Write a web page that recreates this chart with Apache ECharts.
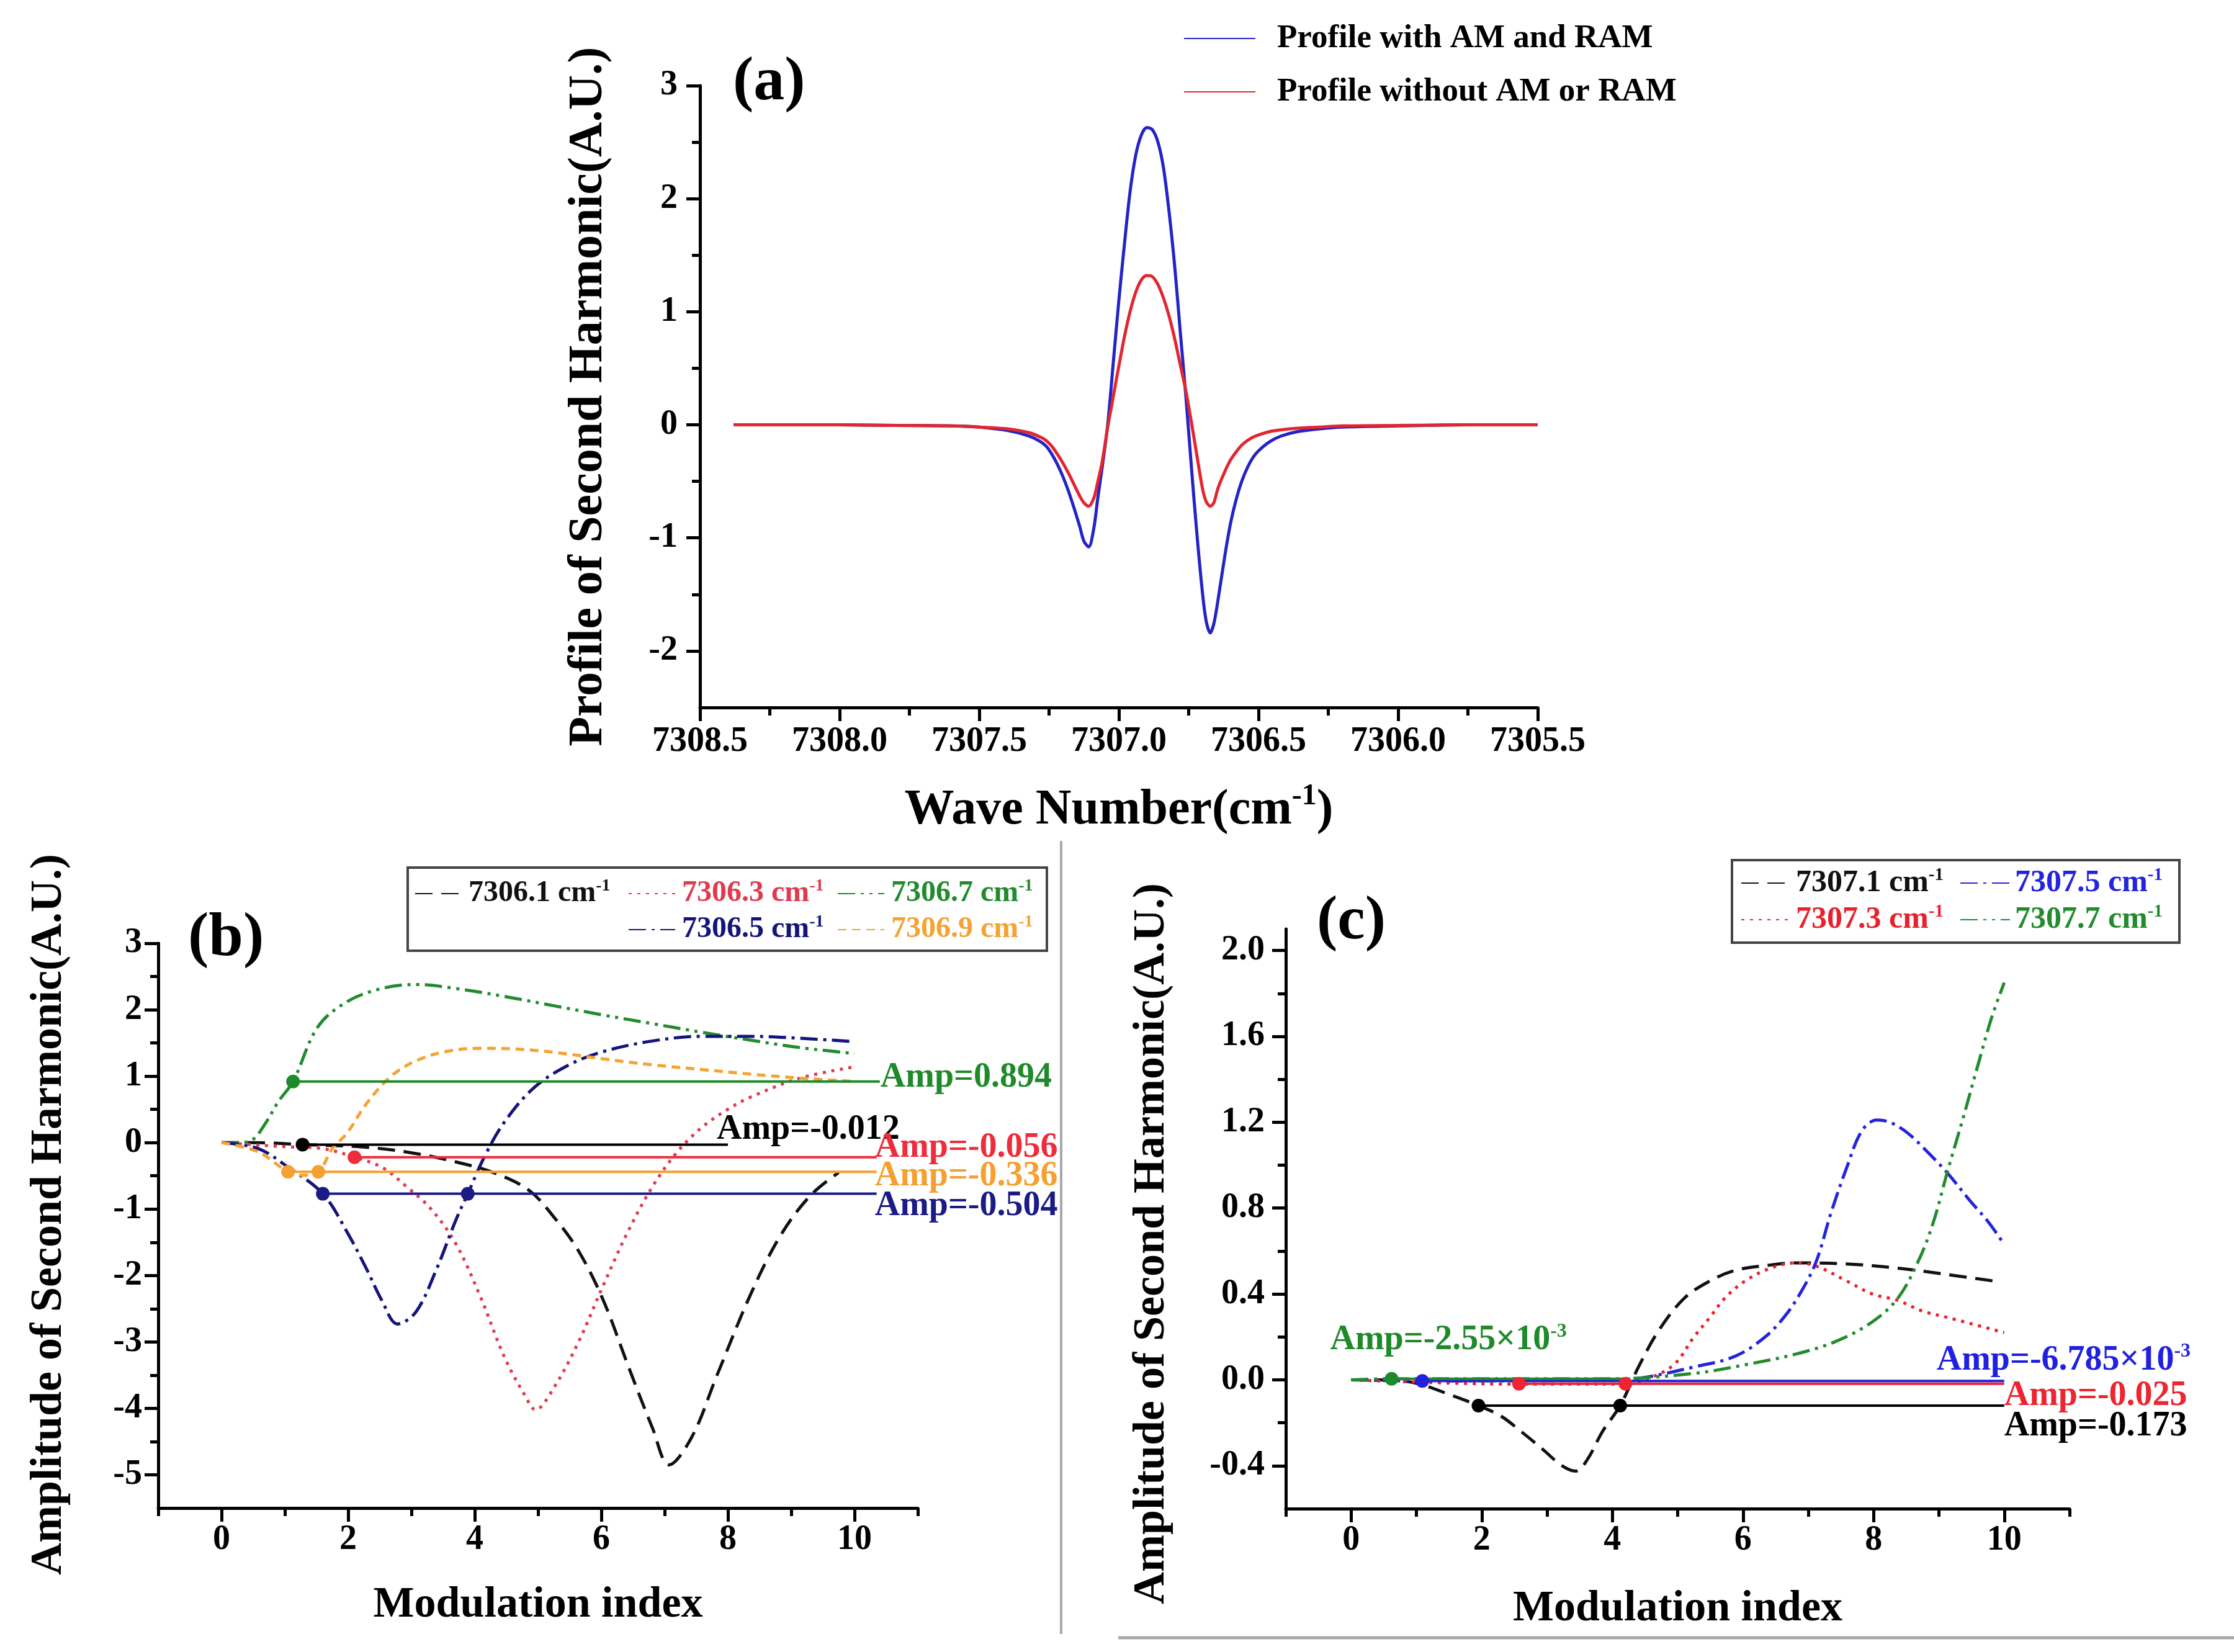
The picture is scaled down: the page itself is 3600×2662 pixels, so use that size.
<!DOCTYPE html>
<html>
<head>
<meta charset="utf-8">
<title>Second harmonic profiles</title>
<script src="https://cdn.jsdelivr.net/npm/echarts@6/dist/echarts.min.js"></script>
<style>
  html, body { margin: 0; padding: 0; background: #fff; }
  #chart { width: 3600px; height: 2662px; }
</style>
</head>
<body>
<div id="chart"></div>
<script>
// ---------- panel (a): 2f profile vs wave number ----------
const waveNumbers = [7308.38, 7308.2, 7308.0, 7307.8, 7307.6, 7307.5, 7307.4, 7307.32, 7307.28,
  7307.26, 7307.24, 7307.22, 7307.20, 7307.18, 7307.16, 7307.14, 7307.125, 7307.108, 7307.09,
  7307.075, 7307.06, 7307.04, 7307.02, 7307.00, 7306.98, 7306.96, 7306.94, 7306.92, 7306.90,
  7306.88, 7306.86, 7306.84, 7306.82, 7306.80, 7306.78, 7306.76, 7306.74, 7306.72, 7306.70,
  7306.687, 7306.673, 7306.66, 7306.645, 7306.62, 7306.60, 7306.58, 7306.56, 7306.54, 7306.52,
  7306.50, 7306.46, 7306.42, 7306.36, 7306.28, 7306.2, 7306.0, 7305.75, 7305.5];
const profileWithAmRam = [0, 0, 0, -0.005, -0.01, -0.02, -0.05, -0.1, -0.15,
  -0.19, -0.26, -0.35, -0.46, -0.59, -0.74, -0.9, -1.03, -1.08, -0.92,
  -0.64, -0.38, 0.0, 0.55, 1.1, 1.6, 2.06, 2.38, 2.56, 2.63,
  2.61, 2.5, 2.27, 1.88, 1.4, 0.82, 0.25, -0.38, -0.98, -1.5,
  -1.74, -1.84, -1.76, -1.55, -1.15, -0.87, -0.66, -0.5, -0.38, -0.29,
  -0.23, -0.15, -0.1, -0.06, -0.035, -0.02, -0.01, 0, 0];
const profileWithoutAmRam = [0, 0, 0, -0.005, -0.01, -0.02, -0.035, -0.07, -0.11,
  -0.14, -0.19, -0.26, -0.34, -0.43, -0.53, -0.63, -0.69, -0.72, -0.65,
  -0.5, -0.33, -0.02, 0.25, 0.52, 0.78, 1.0, 1.17, 1.28, 1.32,
  1.31, 1.24, 1.12, 0.96, 0.76, 0.53, 0.3, 0.02, -0.28, -0.57,
  -0.68, -0.72, -0.69, -0.56, -0.41, -0.31, -0.24, -0.18, -0.14, -0.11,
  -0.09, -0.06, -0.045, -0.03, -0.02, -0.01, -0.005, 0, 0];
const waveMajorTicks = [7305.5, 7306.0, 7306.5, 7307.0, 7307.5, 7308.0, 7308.5];
const waveMinorTicks = [7305.75, 7306.25, 7306.75, 7307.25, 7307.75, 7308.25];
const profileMajorTicks = [-2, -1, 0, 1, 2, 3];
const profileMinorTicks = [-1.5, -0.5, 0.5, 1.5, 2.5];

// ---------- panel (b): amplitude vs modulation index ----------
const namesB = ['7306.1', '7306.3', '7306.7', '7306.5', '7306.9'];
const curveB_7306_1 = [[0, 0], [0.5, 0], [1.28, -0.03], [2.14, -0.06], [2.92, -0.14], [3.7, -0.29], [4.32, -0.46],
  [4.86, -0.72], [5.25, -1.12], [5.64, -1.63], [6.03, -2.37], [6.42, -3.35], [6.81, -4.3], [7.07, -4.85],
  [7.43, -4.43], [7.82, -3.52], [8.37, -2.26], [8.83, -1.4], [9.3, -0.8], [9.75, -0.45]];
const curveB_7306_3 = [[0, 0], [0.97, -0.06], [1.6, -0.09], [2.1, -0.22], [2.53, -0.37], [2.92, -0.66], [3.31, -1.0],
  [3.7, -1.52], [4.09, -2.32], [4.47, -3.23], [4.79, -3.8], [4.96, -4.02], [5.25, -3.69], [5.64, -3.0],
  [6.03, -2.15], [6.42, -1.34], [6.81, -0.66], [7.2, -0.14], [7.59, 0.23], [7.98, 0.49], [8.37, 0.69],
  [9.14, 0.97], [10, 1.14]];
const curveB_7306_7 = [[0, 0], [0.3, 0], [0.5, 0.05], [0.7, 0.3], [0.9, 0.62], [1.13, 0.92], [1.52, 1.74],
  [1.98, 2.12], [2.53, 2.32], [3.07, 2.38], [3.7, 2.32], [4.47, 2.2], [5.25, 2.06], [6.03, 1.92],
  [6.81, 1.79], [7.59, 1.66], [8.37, 1.54], [9.14, 1.43], [10, 1.34]];
const curveB_7306_5 = [[0, 0], [0.58, -0.09], [1.05, -0.37], [1.6, -0.77], [1.98, -1.34], [2.3, -1.92], [2.53, -2.37],
  [2.78, -2.73], [3.07, -2.55], [3.39, -1.92], [3.7, -1.17], [3.89, -0.77], [4.16, -0.2], [4.47, 0.31],
  [4.94, 0.83], [5.49, 1.17], [6.03, 1.37], [6.81, 1.53], [7.59, 1.6], [8.37, 1.6], [9.14, 1.57], [10, 1.52]];
const curveB_7306_9 = [[0, 0], [0.58, -0.14], [1.05, -0.44], [1.28, -0.49], [1.53, -0.44], [1.75, -0.09], [1.98, 0.14],
  [2.3, 0.6], [2.68, 1.0], [3.07, 1.23], [3.54, 1.37], [4.09, 1.42], [4.63, 1.41], [5.25, 1.36],
  [6.03, 1.26], [6.81, 1.17], [7.59, 1.1], [8.37, 1.03], [9.14, 0.97], [10, 0.92]];
// amplitude marker lines: green, black, red, orange, navy
const ampLevelsB = [0.92, -0.03, -0.22, -0.44, -0.77];
const ampMarkersB = [[1.13], [1.28], [2.1], [1.05, 1.53], [1.6, 3.89]];
const ampEndsB = [10.4, 8.0, 10.35, 10.35, 10.35];
const ampTextsB = ['Amp=0.894', 'Amp=-0.012', 'Amp=-0.056', 'Amp=-0.336', 'Amp=-0.504'];

// ---------- panel (c) ----------
const namesC = ['7307.1', '7307.5', '7307.3', '7307.7'];
const curveC_7307_1 = [[0, 0], [0.58, 0], [1.05, -0.02], [1.52, -0.07], [1.95, -0.12], [2.3, -0.17], [2.6, -0.24],
  [2.92, -0.32], [3.23, -0.4], [3.44, -0.425], [3.62, -0.37], [3.85, -0.24], [4.12, -0.12], [4.4, 0.06],
  [4.71, 0.23], [5.1, 0.38], [5.49, 0.46], [5.88, 0.51], [6.42, 0.535], [6.81, 0.545], [7.59, 0.54],
  [8.37, 0.52], [9.14, 0.49], [9.85, 0.46]];
const curveC_7307_5 = [[0, 0], [1.09, -0.005], [4.0, 0], [4.47, 0.01], [5.25, 0.06], [5.88, 0.11], [6.34, 0.2],
  [6.65, 0.3], [6.89, 0.41], [7.12, 0.55], [7.35, 0.78], [7.59, 0.99], [7.82, 1.16], [8.05, 1.21], [8.25, 1.2],
  [8.52, 1.15], [8.83, 1.06], [9.14, 0.96], [9.46, 0.84], [9.77, 0.73], [10, 0.63]];
const curveC_7307_3 = [[0, 0], [2.57, -0.02], [4.2, -0.02], [4.5, 0], [4.94, 0.07], [5.25, 0.2], [5.49, 0.29],
  [5.72, 0.38], [6.03, 0.46], [6.42, 0.52], [6.81, 0.545], [7.12, 0.53], [7.59, 0.46], [7.98, 0.4],
  [8.37, 0.37], [8.75, 0.32], [9.14, 0.29], [10, 0.22]];
const curveC_7307_7 = [[0, 0], [0.62, 0.005], [4.0, 0.005], [5.25, 0.03], [6.03, 0.07], [6.81, 0.12], [7.43, 0.18],
  [7.98, 0.27], [8.37, 0.38], [8.68, 0.55], [8.91, 0.73], [9.14, 0.98], [9.38, 1.23], [9.61, 1.48],
  [9.81, 1.69], [10, 1.85]];
// amplitude marker lines: green, blue, red, black
const ampLevelsC = [0.005, -0.005, -0.018, -0.12];
const ampMarkersC = [[0.62], [1.09], [2.57, 4.2], [1.95, 4.12]];
const ampEndsC = [4.2, 10, 10, 10];
const ampTextsC = ['Amp=-2.55×10|-3', 'Amp=-6.785×10|-3', 'Amp=-0.025', 'Amp=-0.173'];

const modMajorTicks = [0, 2, 4, 6, 8, 10];
const modMinorTicks = [-1, 1, 3, 5, 7, 9, 11];
const ampBMajorTicks = [-5, -4, -3, -2, -1, 0, 1, 2, 3];
const ampBMinorTicks = [-4.5, -3.5, -2.5, -1.5, -0.5, 0.5, 1.5, 2.5];
const ampCMajorTicks = [-0.4, 0, 0.4, 0.8, 1.2, 1.6, 2.0];
const ampCMinorTicks = [-0.2, 0.2, 0.6, 1.0, 1.4, 1.8];

// ---------- styling helpers ----------
const FONT = '"Liberation Serif", "Times New Roman", serif';
const AXIS_W = 5;

function mainAxis(gridIndex, min, max, majors, fmt, margin, extra) {
  return Object.assign({
    type: 'value', gridIndex: gridIndex, min: min, max: max,
    axisLine: { show: true, onZero: false, lineStyle: { color: '#000', width: AXIS_W } },
    axisTick: { show: true, inside: false, length: 22, customValues: majors, lineStyle: { color: '#000', width: AXIS_W } },
    axisLabel: { show: true, customValues: majors, formatter: fmt, margin: margin,
      fontFamily: FONT, fontWeight: 'bold', fontSize: 56, color: '#000' },
    splitLine: { show: false }
  }, extra);
}

// second axis on the same grid, only used to draw the short minor ticks
function ghostAxis(gridIndex, min, max, minors, position, inverse) {
  return {
    type: 'value', gridIndex: gridIndex, min: min, max: max, position: position, inverse: !!inverse,
    axisLine: { show: false, onZero: false },
    axisTick: { show: true, inside: false, length: 13, customValues: minors, lineStyle: { color: '#000', width: AXIS_W } },
    axisLabel: { show: false },
    splitLine: { show: false }
  };
}

function nameStyle(size, padding) {
  const s = { fontFamily: FONT, fontWeight: 'bold', fontSize: size, color: '#000' };
  if (padding) s.padding = padding;
  return s;
}

function curve(name, data, xi, color, dash, width, smooth) {
  return {
    type: 'line', name: name, xAxisIndex: xi, yAxisIndex: xi, data: data,
    smooth: smooth, symbol: 'none', showSymbol: false, color: color,
    lineStyle: { color: color, width: width, type: dash },
    z: 2
  };
}

function supRich(size, color) {
  return {
    t: { fontFamily: FONT, fontWeight: 'bold', fontSize: size, lineHeight: size + 8, color: color },
    s: { fontFamily: FONT, fontWeight: 'bold', fontSize: Math.round(size * 0.58), lineHeight: Math.round(size * 0.58),
      padding: [0, 0, Math.round(size * 0.5), 0], color: color }
  };
}

function ampText(txt) {
  const parts = txt.split('|');
  return parts.length > 1 ? '{t|' + parts[0] + '}{s|' + parts[1] + '}' : '{t|' + parts[0] + '}';
}

function ampSeries(xi, level, markers, end, text, color, labelOffset, labelOnStart) {
  const data = markers.map(function (x) { return [x, level]; });
  data.push({ value: [end, level], symbol: 'none' });
  const labelCfg = {
    show: true, formatter: function () { return ampText(text); }, rich: supRich(56, color),
    offset: labelOffset, distance: 0
  };
  const s = {
    type: 'line', xAxisIndex: xi, yAxisIndex: xi, data: data,
    symbol: 'circle', symbolSize: 22, showSymbol: true, showAllSymbol: true, color: color,
    lineStyle: { color: color, width: 4, type: 'solid' },
    itemStyle: { color: color }, z: 3
  };
  if (labelOnStart) {
    data[0] = { value: data[0], label: Object.assign({ position: 'right' }, labelCfg) };
  } else {
    s.endLabel = labelCfg;
  }
  return s;
}

function legendItem(name, color, left, centerY, size, iconW, pad, withSup) {
  const h = size + 8;
  return {
    data: [name], left: left, top: centerY - h / 2, padding: 0, orient: 'horizontal',
    itemWidth: iconW, itemHeight: 20, selectedMode: false,
    itemStyle: { opacity: 0 },
    formatter: withSup ? function (n) { return '{t|' + n + ' cm}{s|-1}'; } : '{name}',
    textStyle: { color: color, fontFamily: FONT, fontWeight: 'bold', fontSize: size, lineHeight: h,
      padding: [0, 0, 0, pad], rich: supRich(size, color) }
  };
}

// colours
const BLUE_A = '#2323c8', RED_A = '#e22630';
const BLACK = '#111111', RED_B = '#e03a4e', GREEN = '#218b2d', NAVY = '#14147a', ORANGE = '#f4a334';
const RED_C = '#e8222c', BLUE_C = '#2424dc';

// dash patterns
const DASH = [28, 14], DOT = [5, 9], DASH_DOT = [28, 9, 5, 9], DASH_DOT_DOT = [28, 9, 5, 9, 5, 9], SHORT_DASH = [14, 9];

const chart = echarts.init(document.getElementById('chart'));

const option = {
  backgroundColor: '#fff',
  animation: false,
  title: [
    { text: '(a)', left: 1181, top: 84, padding: 0, textStyle: nameStyle(100) },
    { text: '(b)', left: 303, top: 1463, padding: 0, textStyle: nameStyle(100) },
    { text: '(c)', left: 2122, top: 1436, padding: 0, textStyle: nameStyle(100) }
  ],
  grid: [
    { left: 1128, top: 138, width: 1350, height: 1002 },
    { left: 255, top: 1520, width: 1224, height: 910 },
    { left: 2072, top: 1497, width: 1263, height: 934 }
  ],
  xAxis: [
    mainAxis(0, 7305.5, 7308.5, waveMajorTicks, function (v) { return v.toFixed(1); }, 28, {
      inverse: true, position: 'bottom',
      name: '{t|Wave Number(cm}{s|-1}{t|)}', nameLocation: 'middle', nameGap: 120,
      nameTextStyle: { rich: {
        t: { fontFamily: FONT, fontWeight: 'bold', fontSize: 80, lineHeight: 92, color: '#000' },
        s: { fontFamily: FONT, fontWeight: 'bold', fontSize: 48, lineHeight: 48, padding: [0, 0, 44, 0], color: '#000' }
      } }
    }),
    mainAxis(1, -1, 11, modMajorTicks, function (v) { return String(v); }, 24, {
      position: 'bottom', name: 'Modulation index', nameLocation: 'middle', nameGap: 122, nameTextStyle: nameStyle(70)
    }),
    mainAxis(2, -1, 11, modMajorTicks, function (v) { return String(v); }, 24, {
      position: 'bottom', name: 'Modulation index', nameLocation: 'middle', nameGap: 127, nameTextStyle: nameStyle(70)
    }),
    ghostAxis(0, 7305.5, 7308.5, waveMinorTicks, 'bottom', true),
    ghostAxis(1, -1, 11, modMinorTicks, 'bottom'),
    ghostAxis(2, -1, 11, modMinorTicks, 'bottom')
  ],
  yAxis: [
    mainAxis(0, -2.5, 3, profileMajorTicks, function (v) { return String(v); }, 36, {
      position: 'left', name: 'Profile of Second Harmonic(A.U.)', nameLocation: 'middle', nameGap: 140,
      nameTextStyle: nameStyle(78)
    }),
    mainAxis(1, -5.5, 3, ampBMajorTicks, function (v) { return String(v); }, 26, {
      position: 'left', name: 'Amplitude of Second Harmonic(A.U.)', nameLocation: 'middle', nameGap: 140,
      nameTextStyle: nameStyle(72, [0, 0, 0, 36])
    }),
    mainAxis(2, -0.6, 2.1, ampCMajorTicks, function (v) { return v.toFixed(1); }, 34, {
      position: 'left', name: 'Amplitude of Second Harmonic(A.U.)', nameLocation: 'middle', nameGap: 180,
      nameTextStyle: nameStyle(72, [0, 80, 0, 0])
    }),
    ghostAxis(0, -2.5, 3, profileMinorTicks, 'left'),
    ghostAxis(1, -5.5, 3, ampBMinorTicks, 'left'),
    ghostAxis(2, -0.6, 2.1, ampCMinorTicks, 'left')
  ],
  legend: [
    legendItem('Profile with AM and RAM', '#000', 1907, 62, 53, 115, 30, false),
    legendItem('Profile without AM or RAM', '#000', 1907, 148, 53, 115, 30, false),
    legendItem(namesB[0], BLACK, 668, 1440, 48, 75, 6, true),
    legendItem(namesB[1], RED_B, 1012, 1440, 48, 75, 6, true),
    legendItem(namesB[2], GREEN, 1349, 1440, 48, 75, 6, true),
    legendItem(namesB[3], NAVY, 1012, 1498, 48, 75, 6, true),
    legendItem(namesB[4], ORANGE, 1349, 1498, 48, 75, 6, true),
    legendItem(namesC[0], BLACK, 2805, 1423, 50, 80, 3, true),
    legendItem(namesC[1], BLUE_C, 3158, 1423, 50, 80, 3, true),
    legendItem(namesC[2], RED_C, 2805, 1482, 50, 80, 3, true),
    legendItem(namesC[3], GREEN, 3158, 1482, 50, 80, 3, true)
  ],
  graphic: [
    { type: 'rect', shape: { x: 657, y: 1398, width: 1030, height: 134 }, style: { fill: 'none', stroke: '#444', lineWidth: 4 } },
    { type: 'rect', shape: { x: 2791, y: 1386, width: 721, height: 133 }, style: { fill: 'none', stroke: '#444', lineWidth: 4 } },
    { type: 'line', shape: { x1: 1710, y1: 1355, x2: 1710, y2: 2633 }, style: { stroke: '#a8a8a8', lineWidth: 4 } },
    { type: 'line', shape: { x1: 1802, y1: 2639, x2: 3600, y2: 2639 }, style: { stroke: '#a8a8a8', lineWidth: 5 } }
  ],
  series: [
    curve('Profile with AM and RAM', waveNumbers.map(function (x, i) { return [x, profileWithAmRam[i]]; }), 0, BLUE_A, 'solid', 5, 0.3),
    curve('Profile without AM or RAM', waveNumbers.map(function (x, i) { return [x, profileWithoutAmRam[i]]; }), 0, RED_A, 'solid', 5, 0.3),

    curve(namesB[0], curveB_7306_1, 1, BLACK, DASH, 5, 0.35),
    curve(namesB[1], curveB_7306_3, 1, RED_B, DOT, 5, 0.35),
    curve(namesB[2], curveB_7306_7, 1, GREEN, DASH_DOT_DOT, 5, 0.35),
    curve(namesB[3], curveB_7306_5, 1, NAVY, DASH_DOT, 5, 0.35),
    curve(namesB[4], curveB_7306_9, 1, ORANGE, SHORT_DASH, 5, 0.35),
    ampSeries(1, ampLevelsB[0], ampMarkersB[0], ampEndsB[0], ampTextsB[0], '#1f8a2a', [1, -6]),
    ampSeries(1, ampLevelsB[1], ampMarkersB[1], ampEndsB[1], ampTextsB[1], '#000000', [-18, -24]),
    ampSeries(1, ampLevelsB[2], ampMarkersB[2], ampEndsB[2], ampTextsB[2], '#ee2c3c', [-3, -15]),
    ampSeries(1, ampLevelsB[3], ampMarkersB[3], ampEndsB[3], ampTextsB[3], '#f5a030', [-3, 7]),
    ampSeries(1, ampLevelsB[4], ampMarkersB[4], ampEndsB[4], ampTextsB[4], '#1b1b85', [-3, 20]),

    curve(namesC[0], curveC_7307_1, 2, BLACK, DASH, 5, 0.35),
    curve(namesC[1], curveC_7307_5, 2, BLUE_C, DASH_DOT, 5, 0.35),
    curve(namesC[2], curveC_7307_3, 2, RED_C, DOT, 5, 0.35),
    curve(namesC[3], curveC_7307_7, 2, GREEN, DASH_DOT_DOT, 5, 0.35),
    ampSeries(2, ampLevelsC[3], ampMarkersC[3], ampEndsC[3], ampTextsC[3], '#000000', [0, 34]),
    ampSeries(2, ampLevelsC[2], ampMarkersC[2], ampEndsC[2], ampTextsC[2], '#ee2430', [0, 20]),
    ampSeries(2, ampLevelsC[1], ampMarkersC[1], ampEndsC[1], ampTextsC[1], '#2020e0', [-109, -33]),
    ampSeries(2, ampLevelsC[0], ampMarkersC[0], ampEndsC[0], ampTextsC[0], '#1f8a2a', [-110, -62], true)
  ]
};

chart.setOption(option);
window.addEventListener('resize', function () { chart.resize(); });
</script>
</body>
</html>
